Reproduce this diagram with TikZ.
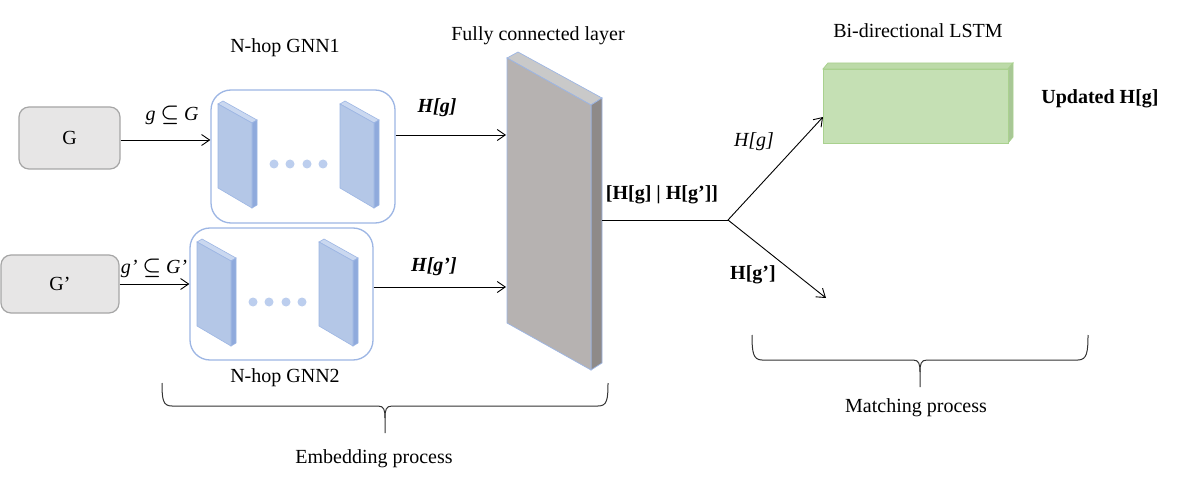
\documentclass[tikz,border=0pt]{standalone}
\usepackage{amsmath}
\usepackage{fontspec}
\setmainfont{Liberation Serif}
\usetikzlibrary{arrows.meta}
\definecolor{gfill}{HTML}{E7E6E6}
\definecolor{gline}{HTML}{A6A6A6}
\definecolor{bline}{HTML}{9DB6E4}
\definecolor{sfront}{HTML}{B4C7E7}
\definecolor{sside}{HTML}{8FAADC}
\definecolor{stop}{HTML}{CAD8F0}
\definecolor{dotc}{HTML}{BCCEEE}
\definecolor{ffront}{HTML}{B6B2B1}
\definecolor{fside}{HTML}{8E8A89}
\definecolor{ftop}{HTML}{C9C9C9}
\definecolor{lfront}{HTML}{C5E0B4}
\definecolor{lside}{HTML}{A8C796}
\definecolor{ltop}{HTML}{BCDAA8}
\definecolor{lline}{HTML}{A9D18E}
\newcommand\myslab[1]{%
  \begin{scope}[shift={(#1)}]
    \fill[stop,draw=bline,line width=0.6pt] (0,0) -- (5,-3) -- (39,16) -- (34,19) -- cycle;
    \fill[sside,draw=bline,line width=0.6pt] (34,19) -- (39,16) -- (39,101) -- (34,104) -- cycle;
    \fill[sfront,draw=bline,line width=0.6pt] (0,0) -- (34,19) -- (34,104) -- (0,84) -- cycle;
  \end{scope}}
\newcommand\mydots[1]{%
  \begin{scope}[shift={(#1)}]
    \foreach \dx in {0,16,33,49} \fill[dotc] (\dx,0) circle (4.5);
  \end{scope}}
\begin{document}
\begin{tikzpicture}[x=1pt,y=-1pt,
  every node/.style={font=\fontsize{20}{24}\selectfont, inner sep=0pt},
  gbox/.style={draw=gline, fill=gfill, rounded corners=10pt, line width=1.2pt},
  gnnbox/.style={draw=bline, fill=white, rounded corners=20pt, line width=1.3pt},
  arr/.style={draw=black, line width=0.9pt, -{Straight Barb[length=8pt,width=11pt,line width=0.9pt]}},
  conn/.style={draw=black, line width=0.9pt},
  brace/.style={draw=black!80, line width=1pt}]
\useasboundingbox (0,0) rectangle (1189,489);

% input graph boxes
\node[gbox, minimum width=101pt, minimum height=62pt] (G) at (69.5,138) {G};
\node[gbox, minimum width=118pt, minimum height=58pt] (Gp) at (60,284) {G’};

% GNN boxes
\node[gnnbox, minimum width=184pt, minimum height=133pt] (gnn1) at (303,156.5) {};
\node[gnnbox, minimum width=183pt, minimum height=132pt] (gnn2) at (281.5,294) {};
\myslab{218,104}
\myslab{340,104}
\mydots{274,164}
\myslab{197,242}
\myslab{319,242}
\mydots{253,302}

\node (t1) at (285,48) {N-hop GNN1};
\node (t2) at (285,378) {N-hop GNN2};

% arrows into GNNs
\draw[arr] ([yshift=-2pt]G.east) -- ([yshift=-2pt]G.east -| gnn1.west);
\draw[arr] (Gp.east) -- (Gp.east -| gnn2.west);
\node (l1) at (172,115) {\textit{g} $\boldsymbol{\subseteq}$ \textit{G}};
\node (l2) at (154,268) {\textit{g’} $\boldsymbol{\subseteq}$ \textit{G’}};

% fully connected layer
\fill[ftop,draw=bline,line width=0.7pt] (507,58) -- (518,52) -- (602,98) -- (591,105) -- cycle;
\fill[fside,draw=bline,line width=0.7pt] (591,105) -- (602,98) -- (602,363) -- (591,370) -- cycle;
\fill[ffront,draw=bline,line width=0.7pt] (507,58) -- (591,105) -- (591,370) -- (507,323) -- cycle;
\node (tfc) at (538,36) {Fully connected layer};
\coordinate (fcin1) at (506,135);
\coordinate (fcin2) at (506,287);
\coordinate (fcout) at (602,220);

\draw[arr] (gnn1.east |- fcin1) -- (fcin1);
\draw[arr] (gnn2.east |- fcin2) -- (fcin2);
\node (h1) at (437,108) {\textbf{\textit{H[g]}}};
\node (h2) at (434,267) {\textbf{\textit{H[g’]}}};

% output and split
\coordinate (junc) at (728,220);
\coordinate (lstmin) at (823,117);
\coordinate (gpout) at (826,298);
\draw[conn] (fcout) -- (junc);
\draw[arr] (junc) -- (lstmin);
\draw[arr] (junc) -- (gpout);
\node (hcat) at (662,195) {\textbf{[H[g] | H[g’]]}};
\node (h3) at (754,142) {\textit{H[g]}};
\node (h4) at (753,275) {\textbf{H[g’]}};

% LSTM block
\fill[ltop,draw=lline,line width=0.8pt] (823,69) -- (828,63) -- (1013,63) -- (1008,69) -- cycle;
\fill[lside,draw=lline,line width=0.8pt] (1008,69) -- (1013,63) -- (1013,137) -- (1008,143) -- cycle;
\fill[lfront,draw=lline,line width=0.8pt] (823,69) rectangle (1008,143);
\node (tl) at (918,31) {Bi-directional LSTM};
\node (up) at (1100,99) {\textbf{Updated H[g]}};

% braces
\draw[brace] (162,383) .. controls (162,400) and (163,406) .. (172,406) -- (378,406)
  .. controls (384,406) and (385,410) .. (385,418) -- (385,433);
\draw[brace] (385,418) .. controls (385,410) and (386,406) .. (392,406) -- (598,406)
  .. controls (607,406) and (608,400) .. (608,383);
\node (emb) at (374,459) {Embedding process};

\draw[brace] (752,335) .. controls (752,352) and (753,360) .. (762,360) -- (913,360)
  .. controls (919,360) and (920,364) .. (920,372) -- (920,387);
\draw[brace] (920,372) .. controls (920,364) and (921,360) .. (927,360) -- (1078,360)
  .. controls (1087,360) and (1088,352) .. (1088,335);
\node (mat) at (916,408) {Matching process};
\end{tikzpicture}
\end{document}
